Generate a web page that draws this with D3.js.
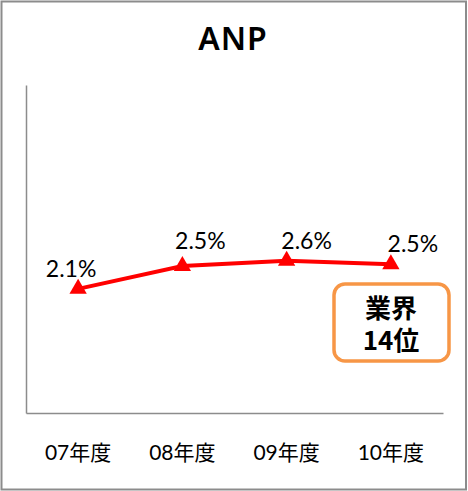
<!DOCTYPE html>
<html>
<head>
<meta charset="utf-8">
<script src="https://cdn.jsdelivr.net/npm/d3@7"></script>
<style>
  html, body { margin: 0; padding: 0; background: #fff; }
  svg { display: block; }
</style>
</head>
<body>
<div id="chart"></div>
<script>
// chart data
const categories = ["07年度", "08年度", "09年度", "10年度"];
const values = [2.12, 2.51, 2.6, 2.54];
const pointLabels = ["2.1%", "2.5%", "2.6%", "2.5%"];
const title = "ANP";
const noteLines = ["業界", "14位"];

const width = 468, height = 491;
const margin = { top: 85, right: 25, bottom: 78, left: 26 };
const innerW = width - margin.left - margin.right;
const innerH = height - margin.top - margin.bottom;

// label nudges
const labelDx = [-7, 18, 20, 22];
const labelDy = [-12, -17, -12, -12];

const svg = d3.select("#chart").append("svg")
  .attr("width", width)
  .attr("height", height);

// outer frame
svg.append("rect")
  .attr("x", 1.5).attr("y", 1.5)
  .attr("width", width - 3.5).attr("height", height - 3)
  .attr("fill", "#fff")
  .attr("stroke", "#8c8c8c")
  .attr("stroke-width", 2);

svg.append("text")
  .attr("x", 233).attr("y", 50)
  .attr("text-anchor", "middle")
  .attr("font-family", "'Noto Sans', sans-serif")
  .attr("font-weight", 600)
  .attr("font-size", 32)
  .attr("letter-spacing", 1)
  .attr("fill", "#000")
  .text(title);

const g = svg.append("g")
  .attr("transform", `translate(${margin.left},${margin.top})`);

const x = d3.scaleBand().domain(categories).range([0, innerW]);
const y = d3.scaleLinear().domain([0, 5.6]).range([innerH, 0]);

// axes (lines only, no ticks)
const yAxis = g.append("g").call(d3.axisLeft(y).tickSize(0).tickFormat(""));
yAxis.select(".domain").attr("stroke", "#8c8c8c").attr("stroke-width", 1.5);

const xAxis = g.append("g")
  .attr("transform", `translate(0,${innerH})`)
  .call(d3.axisBottom(x).tickSize(0).tickPadding(32));
xAxis.select(".domain").attr("stroke", "#8c8c8c").attr("stroke-width", 1.5);
xAxis.selectAll("text")
  .attr("font-family", "Lato, 'Noto Sans CJK JP', sans-serif")
  .attr("font-size", 21)
  .attr("fill", "#000");

const cx = (d, i) => x(categories[i]) + x.bandwidth() / 2;

const line = d3.line()
  .x((d, i) => cx(d, i))
  .y(d => y(d));

g.append("path")
  .datum(values)
  .attr("d", line)
  .attr("fill", "none")
  .attr("stroke", "#ff0000")
  .attr("stroke-width", 4);

const tri = d3.symbol().type(d3.symbolTriangle).size(130);
g.selectAll(".marker")
  .data(values)
  .enter().append("path")
  .attr("class", "marker")
  .attr("d", tri)
  .attr("transform", (d, i) => `translate(${cx(d, i)},${y(d)})`)
  .attr("fill", "#ff0000");

g.selectAll(".vlabel")
  .data(values)
  .enter().append("text")
  .attr("class", "vlabel")
  .attr("x", (d, i) => cx(d, i) + labelDx[i])
  .attr("y", (d, i) => y(d) + labelDy[i])
  .attr("text-anchor", "middle")
  .attr("font-family", "Lato, sans-serif")
  .attr("font-size", 23)
  .attr("fill", "#000")
  .text((d, i) => pointLabels[i]);

// note box
svg.append("rect")
  .attr("x", 334).attr("y", 284)
  .attr("width", 115).attr("height", 77)
  .attr("rx", 11)
  .attr("fill", "#fff")
  .attr("stroke", "#f79646")
  .attr("stroke-width", 3.5);

const note = svg.append("text")
  .attr("x", 391)
  .attr("y", 318)
  .attr("text-anchor", "middle")
  .attr("font-family", "'Noto Sans CJK JP', sans-serif")
  .attr("font-weight", 700)
  .attr("font-size", 26)
  .attr("fill", "#000");

note.selectAll("tspan")
  .data(noteLines)
  .enter().append("tspan")
  .attr("x", 391)
  .attr("dy", (d, i) => i === 0 ? 0 : 32)
  .text(d => d);
</script>
</body>
</html>
